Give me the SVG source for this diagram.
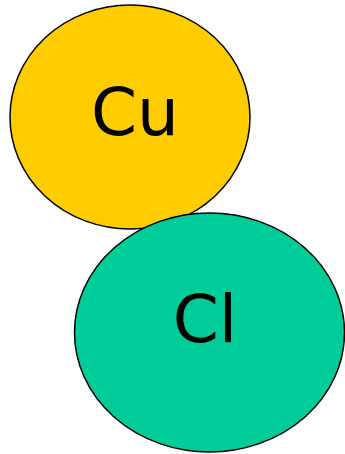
<svg xmlns="http://www.w3.org/2000/svg" width="345" height="454" viewBox="0 0 345 454">
<style>
.atom{stroke:#000;stroke-width:1.5}
.lbl{font-family:"Comic Sans MS","DejaVu Sans",sans-serif;font-size:66px;fill:#000;text-anchor:middle}
</style>
<rect width="345" height="454" fill="#fff"/>
<g id="cu">
<ellipse class="atom" cx="130" cy="117" rx="120" ry="112" fill="#FFCC00"/>
<text class="lbl" x="135" y="135">Cu</text>
</g>
<g id="cl">
<ellipse class="atom" cx="209.5" cy="332.5" rx="135" ry="119.5" fill="#00CC99"/>
<text class="lbl" x="205" y="342">Cl</text>
</g>
<g id="connectors"/>
</svg>
